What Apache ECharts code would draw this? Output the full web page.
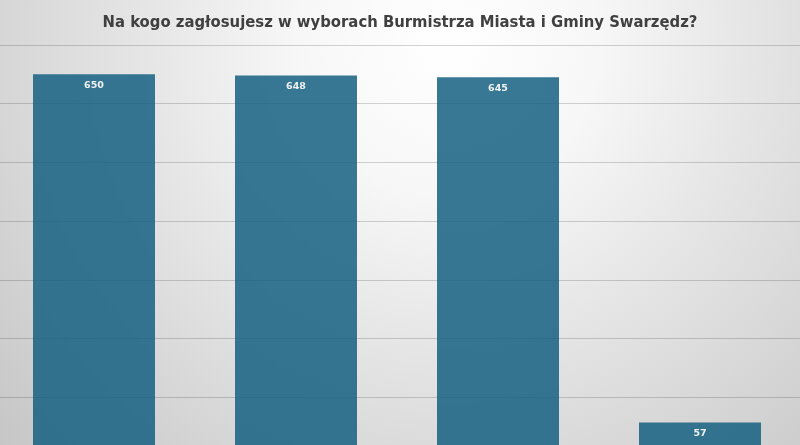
<!DOCTYPE html>
<html>
<head>
<meta charset="utf-8">
<script src="https://cdn.jsdelivr.net/npm/echarts@6/dist/echarts.min.js"></script>
<style>
    html, body { margin: 0; padding: 0; }
    #chart { width: 800px; height: 445px; }
</style>
</head>
<body>
<div id="chart"></div>
<script>
// chart data
var titleText = 'Na kogo zagłosujesz w wyborach Burmistrza Miasta i Gminy Swarzędz?';
var candidates = ['Kandydat A', 'Kandydat B', 'Kandydat C', 'Kandydat D'];
var votes = [650, 648, 645, 57];
var axisMin = 0, axisMax = 700, axisStep = 100;

var chart = echarts.init(document.getElementById('chart'));

var option = {
    backgroundColor: {
        type: 'radial',
        x: 0.56, y: 0.1, r: 1.35,
        colorStops: [
            { offset: 0, color: '#ffffff' },
            { offset: 0.25, color: '#f7f7f7' },
            { offset: 0.5, color: '#e6e6e6' },
            { offset: 1, color: '#c6c6c6' }
        ]
    },
    animation: false,
    title: {
        text: titleText,
        left: 'center',
        top: 9,
        textStyle: {
            fontFamily: '"DejaVu Sans Condensed", "Liberation Sans Narrow", sans-serif',
            fontSize: 16.5,
            fontWeight: 'bold',
            color: '#404040'
        }
    },
    grid: {
        outerBoundsMode: 'none',
        containLabel: false,
        left: -7,
        width: 808,
        top: 45,
        height: 411
    },
    xAxis: {
        type: 'category',
        data: candidates,
        axisLine: { show: false },
        axisTick: { show: false },
        axisLabel: { show: false }
    },
    yAxis: {
        type: 'value',
        min: axisMin,
        max: axisMax,
        interval: axisStep,
        axisLabel: { show: false },
        splitLine: { lineStyle: { color: 'rgba(0,0,0,0.17)', width: 1.2 } }
    },
    series: [
        {
            name: 'Głosy',
            type: 'bar',
            data: votes,
            barWidth: 122,
            itemStyle: { color: 'rgba(21,96,130,0.85)' },
            label: {
                show: true,
                position: 'insideTop',
                distance: 6,
                color: '#f2f2f2',
                fontFamily: '"DejaVu Sans", sans-serif',
                fontWeight: 'bold',
                fontSize: 9.5
            }
        }
    ]
};

chart.setOption(option);
</script>
</body>
</html>
